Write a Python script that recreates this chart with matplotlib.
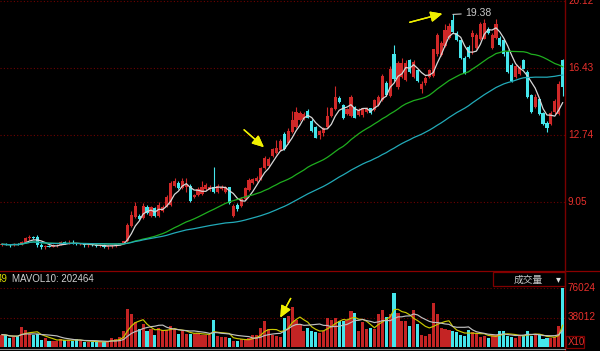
import numpy as np
import pandas as pd
import matplotlib
matplotlib.use("Agg")
import matplotlib.pyplot as plt
from matplotlib.lines import Line2D
from matplotlib.patches import Rectangle
from matplotlib.transforms import blended_transform_factory

# daily OHLC (left to right)
opens = [6.70, 6.72, 6.70, 6.68, 6.74, 6.70, 6.86, 7.05, 7.10, 7.15,
         6.70, 6.55, 6.62, 6.60, 6.66, 6.70, 6.85, 6.78, 6.80, 6.76,
         6.72, 6.76, 6.66, 6.70, 6.68, 6.62, 6.68, 6.58, 6.62, 6.66,
         6.72, 6.78, 6.88, 7.75, 8.25, 8.30, 8.15, 8.78, 8.30, 8.70,
         8.30, 8.55, 8.80, 8.90, 9.95, 10.10, 9.80, 9.85, 9.95, 9.30,
         9.45, 9.50, 9.75, 9.70, 9.90, 9.60, 9.75, 9.60, 9.85, 8.30,
         8.90, 8.85, 9.20, 9.70, 10.10, 10.20, 10.30, 10.90, 11.05, 11.60,
         11.75, 11.90, 12.80, 12.30, 12.90, 13.20, 13.55, 13.60, 14.05, 13.50,
         13.20, 12.75, 12.85, 13.20, 13.80, 14.15, 14.80, 14.40, 13.90, 13.80,
         14.30, 13.85, 13.85, 14.00, 14.20, 14.10, 14.40, 14.65, 15.60, 14.90,
         17.20, 15.40, 15.95, 15.75, 16.85, 15.95, 16.30, 15.25, 15.60, 15.95,
         16.00, 17.20, 17.15, 17.65, 18.10, 19.05, 18.35, 17.95, 17.00, 17.60,
         18.15, 17.55, 18.00, 18.05, 18.60, 17.55, 18.10, 18.10, 17.95, 17.30,
         16.60, 15.95, 16.10, 16.85, 16.20, 14.95, 14.30, 14.75, 13.95, 13.40,
         13.35, 14.00, 13.90, 16.85]
highs = [6.78, 6.80, 6.76, 6.78, 6.80, 6.90, 7.12, 7.25, 7.20, 7.25,
         6.80, 6.66, 6.70, 6.72, 6.74, 6.92, 6.90, 6.95, 6.98, 6.82,
         6.80, 6.82, 6.74, 6.78, 6.74, 6.72, 6.74, 6.66, 6.70, 6.76,
         6.80, 6.92, 7.90, 8.55, 9.05, 8.40, 9.00, 8.90, 8.85, 8.80,
         9.05, 8.90, 9.45, 10.20, 10.40, 10.20, 10.40, 10.40, 10.05, 9.50,
         9.85, 10.20, 10.10, 10.00, 11.00, 10.05, 10.00, 9.95, 9.90, 8.95,
         9.00, 9.30, 9.90, 10.35, 10.40, 10.50, 11.00, 11.60, 11.55, 12.05,
         12.45, 12.50, 12.90, 13.10, 14.05, 14.30, 14.05, 14.00, 14.15, 13.60,
         13.25, 13.00, 13.20, 14.30, 14.30, 15.45, 14.90, 14.45, 14.25, 14.95,
         14.35, 14.20, 14.25, 14.30, 14.25, 14.75, 14.95, 16.10, 15.70, 16.55,
         17.70, 16.80, 17.00, 16.85, 16.95, 16.85, 16.40, 15.70, 16.00, 16.40,
         17.50, 18.35, 17.90, 18.85, 18.90, 19.38, 18.45, 18.05, 17.10, 17.70,
         18.50, 18.35, 18.95, 19.15, 18.70, 18.35, 19.15, 18.20, 18.00, 17.40,
         16.70, 16.65, 16.60, 16.95, 16.30, 15.00, 15.00, 14.80, 14.00, 13.50,
         14.05, 14.70, 15.70, 16.95]
lows = [6.62, 6.66, 6.60, 6.64, 6.66, 6.68, 6.82, 6.98, 7.00, 6.55,
        6.48, 6.45, 6.55, 6.55, 6.58, 6.66, 6.74, 6.72, 6.72, 6.68,
        6.66, 6.60, 6.58, 6.62, 6.55, 6.56, 6.52, 6.48, 6.54, 6.60,
        6.66, 6.72, 6.84, 7.70, 8.15, 8.05, 8.10, 8.40, 8.25, 8.25,
        8.25, 8.50, 8.75, 8.85, 9.90, 9.75, 9.75, 9.60, 9.05, 9.25,
        9.40, 9.45, 9.70, 9.65, 9.55, 9.55, 9.70, 9.55, 8.95, 8.25,
        8.55, 8.80, 9.15, 9.65, 10.05, 10.15, 10.25, 10.85, 11.00, 11.55,
        11.70, 11.85, 11.90, 12.25, 12.85, 13.10, 13.50, 13.55, 13.65, 12.90,
        12.55, 12.50, 12.70, 13.15, 13.75, 14.10, 14.50, 13.60, 13.85, 13.75,
        13.65, 13.80, 13.75, 13.95, 13.90, 14.05, 14.35, 14.60, 14.90, 14.85,
        15.70, 15.30, 15.90, 15.70, 16.15, 15.90, 15.65, 15.05, 15.50, 15.90,
        15.95, 17.10, 17.10, 17.60, 18.00, 18.35, 17.90, 16.95, 16.10, 17.00,
        17.20, 17.50, 17.95, 18.00, 18.30, 17.50, 18.00, 17.65, 17.10, 16.15,
        15.65, 15.90, 16.05, 16.35, 14.80, 13.95, 14.25, 13.85, 13.30, 12.90,
        13.30, 13.90, 13.85, 14.90]
closes = [6.72, 6.70, 6.68, 6.74, 6.70, 6.86, 7.05, 7.15, 7.06, 6.70,
          6.58, 6.62, 6.60, 6.68, 6.70, 6.85, 6.78, 6.80, 6.76, 6.72,
          6.76, 6.66, 6.70, 6.68, 6.62, 6.68, 6.58, 6.62, 6.66, 6.72,
          6.78, 6.88, 7.80, 8.35, 8.85, 8.12, 8.85, 8.45, 8.75, 8.30,
          8.90, 8.80, 9.35, 10.10, 10.20, 9.80, 10.20, 10.00, 9.10, 9.45,
          9.75, 9.90, 10.00, 9.90, 9.60, 9.95, 9.90, 9.90, 9.00, 8.85,
          8.65, 9.20, 9.80, 10.25, 10.30, 10.40, 10.90, 11.50, 11.40, 11.95,
          12.05, 12.40, 11.95, 12.95, 13.55, 14.00, 13.95, 13.90, 13.70, 12.95,
          12.60, 12.95, 13.10, 13.80, 14.20, 14.85, 14.55, 13.65, 14.15, 14.85,
          13.70, 14.10, 14.20, 14.20, 13.95, 14.65, 14.85, 16.00, 14.95, 16.40,
          15.80, 16.70, 16.70, 16.70, 16.20, 16.75, 15.70, 15.55, 15.90, 16.30,
          17.45, 18.25, 17.80, 18.50, 18.75, 18.40, 17.95, 17.00, 16.15, 17.05,
          18.35, 18.25, 18.85, 18.90, 18.35, 18.25, 18.85, 17.70, 17.20, 16.20,
          15.70, 16.55, 16.50, 16.40, 14.85, 14.00, 14.85, 13.90, 13.35, 13.10,
          13.95, 14.60, 15.55, 15.40]
volumes = [16000, 15000, 12000, 13000, 14000, 26000, 22000, 17000, 16000, 17000,
           9000, 12000, 8000, 8000, 8000, 10000, 9000, 9000, 8000, 10000,
           8000, 6000, 7000, 6000, 8000, 7000, 6000, 7000, 12000, 10000,
           13000, 20000, 49000, 43000, 32000, 23000, 29000, 20000, 23000, 16000,
           25000, 22000, 22000, 27000, 23000, 17000, 20000, 17000, 17000, 17000,
           18000, 16000, 15000, 15000, 35000, 14000, 13000, 13000, 12000, 8000,
           8000, 10000, 10000, 11000, 15000, 15000, 25000, 34000, 23000, 16000,
           14000, 13000, 38000, 40000, 51000, 35000, 29000, 20000, 25000, 21000,
           19000, 18000, 21000, 38000, 35000, 38000, 33000, 33000, 35000, 46000,
           44000, 21000, 32000, 23000, 25000, 23000, 42000, 48000, 39000, 42000,
           70000, 44000, 33000, 33000, 27000, 48000, 29000, 15000, 14000, 17000,
           57000, 42000, 25000, 23000, 22000, 20000, 19000, 15000, 14000, 22000,
           19000, 18000, 13000, 14000, 11000, 15000, 15000, 21000, 20000, 14000,
           13000, 12000, 16000, 16000, 21000, 14000, 16000, 16000, 10000, 12000,
           12000, 13000, 27000, 76024]

price_ticks = [20.12, 16.43, 12.74, 9.05]
vol_ticks = [76024, 38012]
ma_windows = [5, 30, 60]
ma_colors = ['#d8d8d8', '#1fae1f', '#22aab8']
vol_ma_windows = [5, 10]
vol_ma_colors = ['#c8c800', '#c0c0c0']

RED = '#d02828'
CYAN = '#45e6ec'
GRID = '#6e0000'
LABEL = '#e8302c'

W, H = 600, 351
fig = plt.figure(figsize=(W / 100, H / 100), dpi=100, facecolor='black')

o = np.array(opens)
hi = np.array(highs)
lo = np.array(lows)
c = np.array(closes)
v = np.array(volumes, dtype=float)
x = np.arange(len(c))
up = c >= o
colors = np.where(up, RED, CYAN)
xlim = (-0.51, 143.6)

# ---- price panel
ax = fig.add_axes([0, 1 - 271 / H, 565 / W, 271 / H])
ax.set_facecolor('black')
ax.set_xlim(*xlim)
ax.set_ylim(5.252, 20.174)
ax.axis('off')
for t in price_ticks:
    ax.axhline(t, color=GRID, lw=0.8, ls=(0, (1, 2)), zorder=0)

ax.vlines(x, lo, hi, colors=colors, lw=0.8, zorder=2)
body = np.maximum(np.abs(c - o), 0.04)
ax.bar(x, body, bottom=np.minimum(o, c), width=0.8, color=colors, lw=0, zorder=3)

cs = pd.Series(c)
for w, col in zip(ma_windows, ma_colors):
    ax.plot(x, cs.rolling(w, min_periods=1).mean(), color=col, lw=0.9, zorder=4)

imax = int(np.argmax(hi))
ax.annotate(f'{hi[imax]:.2f}', xy=(imax, hi[imax]), xytext=(9, 1), textcoords='offset points',
            color='#c8c8c8', fontsize=7.5, family='Liberation Sans', va='center',
            arrowprops=dict(arrowstyle='-', color='#c8c8c8', lw=0.8, shrinkA=1, shrinkB=0))

tr = blended_transform_factory(ax.transAxes, ax.transData)
for t in price_ticks:
    ax.text(1 + 3 / 565, t, f'{t:.2f}', transform=tr, color=LABEL, fontsize=7.2,
            family='Liberation Sans', va='center', ha='left', clip_on=False)

# ---- volume panel
vax = fig.add_axes([0, 4 / H, 565 / W, 76 / H])
vax.set_facecolor('black')
vax.set_xlim(*xlim)
vax.set_ylim(0, 76024 * 76 / 59)
vax.axis('off')
for t in vol_ticks:
    vax.axhline(t, color=GRID, lw=0.8, ls=(0, (1, 2)), zorder=0)
vax.bar(x, v, width=0.8, color=np.where(up, '#c42424', CYAN), lw=0, zorder=2)
vs = pd.Series(v)
for w, col in zip(vol_ma_windows, vol_ma_colors):
    vax.plot(x, vs.rolling(w, min_periods=1).mean(), color=col, lw=0.85, zorder=3)

vtr = blended_transform_factory(vax.transAxes, vax.transData)
for t in vol_ticks:
    vax.text(1 + 3 / 565, t, f'{t}', transform=vtr, color=LABEL, fontsize=7.2,
             family='Liberation Sans', va='center', ha='left', clip_on=False)

# ---- frame lines, header texts, boxes
fig.add_artist(Line2D([0, 1], [1 - 271 / H] * 2, color='#8a0000', lw=0.9))
fig.add_artist(Line2D([565 / W] * 2, [0, 1], color='#7a0000', lw=1.0))
fig.add_artist(Line2D([0, 565 / W], [2.5 / H] * 2, color='#8a8a8a', lw=0.8))

fig.text(-3 / W, 1 - 279 / H, '49', color='#d8d800', fontsize=7,
         family='Liberation Sans', va='center', ha='left')
fig.text(12 / W, 1 - 279 / H, 'MAVOL10: 202464', color='#d0d0d0', fontsize=7,
         family='Liberation Sans', va='center', ha='left')

fig.add_artist(Rectangle((493 / W, 1 - 286 / H), 72 / W, 14 / H, transform=fig.transFigure,
                         facecolor='black', edgecolor='#800000', lw=0.9))
fig.text(528 / W, 1 - 279.5 / H, '成交量', color='#c8c8c8', fontsize=7,
         family=['Noto Sans CJK SC', 'DejaVu Sans'], va='center', ha='center')
fig.text(558 / W, 1 - 279 / H, '▾', color='#e0e0e0', fontsize=7,
         family='DejaVu Sans', va='center', ha='center')

fig.add_artist(Rectangle((566 / W, 1 - 348 / H), 18 / W, 12 / H, transform=fig.transFigure,
                         facecolor='none', edgecolor='#800000', lw=0.9))
fig.text(568 / W, 1 - 342 / H, 'X10', color=LABEL, fontsize=7,
         family='Liberation Sans', va='center', ha='left')

# hand-drawn yellow arrows
for tail, head in [((407, 23), (445, 13)), ((242, 128), (266, 149)), ((292, 296), (279, 320))]:
    fig.add_artist(plt.annotate('', xy=(head[0] / W, 1 - head[1] / H), xycoords='figure fraction',
                                xytext=(tail[0] / W, 1 - tail[1] / H), textcoords='figure fraction',
                                arrowprops=dict(arrowstyle='-|>,head_width=0.32,head_length=0.7',
                                                color='#f0f000', lw=1.0)))

fig.savefig('out.png', dpi=100, facecolor='black')
